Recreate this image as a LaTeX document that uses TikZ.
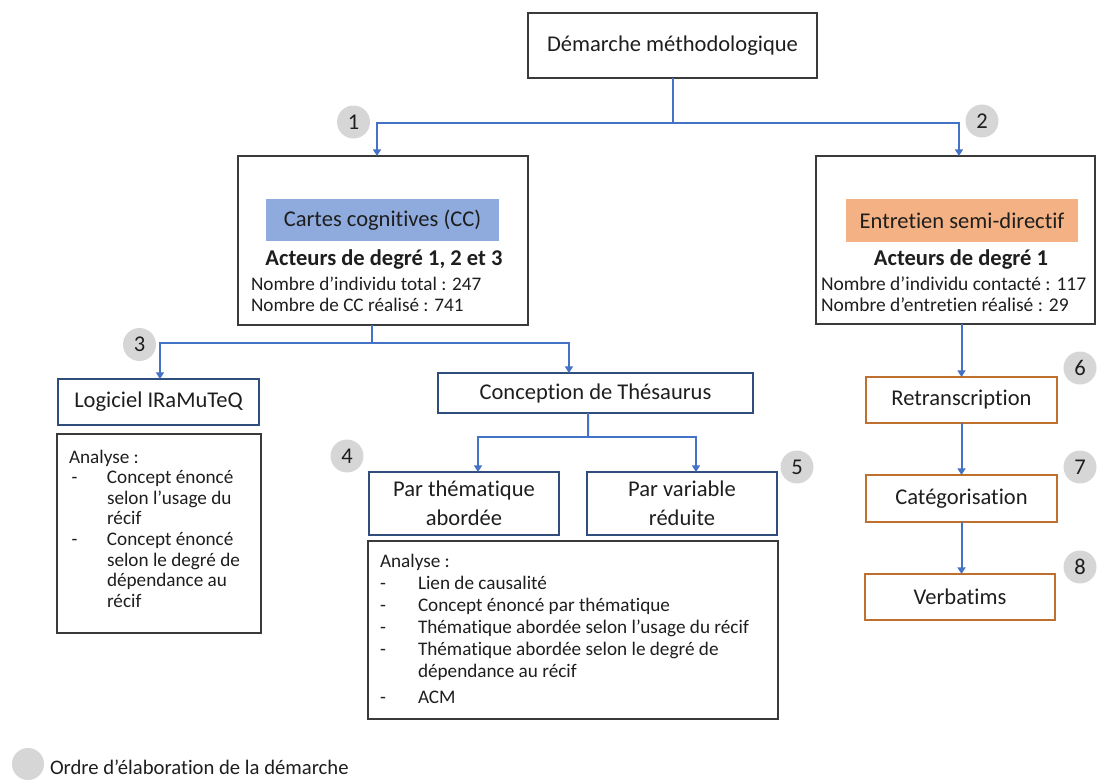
\documentclass[tikz,border=0pt]{standalone}
\usepackage{fontspec}
\setmainfont{Carlito}[Ligatures=NoCommon]
\usetikzlibrary{arrows.meta}
\definecolor{connblue}{HTML}{4472C4}
\definecolor{fillblue}{HTML}{8FAADC}
\definecolor{fillorange}{HTML}{F4B183}
\definecolor{navyedge}{HTML}{2F4E7E}
\definecolor{brownedge}{HTML}{C0702E}
\definecolor{plainedge}{HTML}{3A3A3A}
\definecolor{dotgray}{HTML}{D6D6D6}
\definecolor{inktext}{HTML}{1E1E1E}
\newcommand{\bigf}{\fontsize{16.9}{21}\selectfont}
\begin{document}
\begin{tikzpicture}[x=0.75pt,y=-0.75pt,text=inktext,
  plainbox/.style={draw=plainedge,line width=1.2pt,outer sep=0pt,inner sep=0pt},
  navybox/.style={draw=navyedge,line width=1.9pt,outer sep=0pt,inner sep=0pt,font=\bigf,align=center},
  brownbox/.style={draw=brownedge,line width=1.9pt,outer sep=0pt,inner sep=0pt,font=\bigf},
  conn/.style={draw=connblue,line width=1.5pt},
  arr/.style={conn,-{Triangle[width=6pt,length=5pt]}},
  stepdot/.style={circle,fill=dotgray,minimum size=24.75pt,inner sep=0pt,font=\bigf},
  txt/.style={inner sep=0pt,outer sep=0pt}
]
\useasboundingbox (0,0) rectangle (1099,779);

% top
\node[plainbox,minimum width=216.75pt,minimum height=48.75pt,font=\bigf] (top) at (672.5,45.5) {Démarche méthodologique};

% cartes cognitives
\node[plainbox,minimum width=217.5pt,minimum height=126.75pt] (cc) at (383,240.5) {};
\node[fill=fillblue,minimum width=174.75pt,minimum height=31.5pt,inner sep=0pt,font=\bigf] (ccl) at (382.5,220) {Cartes cognitives (CC)};
\node[txt,anchor=base,font=\bigf\bfseries] (cca) at (384,265) {Acteurs de degré 1, 2 et 3};
\node[txt,anchor=base west,font=\fontsize{14.4}{15.75}\selectfont] (ccn) at (251,290) {\begin{tabular}[t]{@{}l@{}}Nombre d’individu total : 247\\Nombre de CC réalisé : 741\end{tabular}};

% entretien
\node[plainbox,minimum width=209.25pt,minimum height=126pt] (ent) at (955.5,240) {};
\node[fill=fillorange,minimum width=174pt,minimum height=32.25pt,inner sep=0pt,font=\bigf] (entl) at (962,220.5) {Entretien semi-directif};
\node[txt,anchor=base,font=\bigf\bfseries] (enta) at (961,265) {Acteurs de degré 1};
\node[txt,anchor=base west,font=\fontsize{14.6}{15.75}\selectfont] (entn) at (821,290) {\begin{tabular}[t]{@{}l@{}}Nombre d’individu contacté : 117\\Nombre d’entretien réalisé : 29\end{tabular}};

% left branch
\node[navybox,minimum width=150.75pt,minimum height=34.5pt] (logi) at (158.5,402) {Logiciel IRaMuTeQ};
\node[plainbox,minimum width=153pt,minimum height=149.25pt] (anaL) at (159,533.5) {};
\node[txt,anchor=base west,font=\fontsize{14.4}{15.45}\selectfont] (anaLt) at (69,463) {\begin{tabular}[t]{@{}p{28.5pt}@{}l@{}}\multicolumn{2}{@{}l@{}}{Analyse :}\\
\hspace{2pt}- & Concept énoncé\\
 & selon l’usage du\\
 & récif\\
\hspace{2pt}- & Concept énoncé\\
 & selon le degré de\\
 & dépendance au\\
 & récif\end{tabular}};

% thesaurus
\node[navybox,minimum width=236.25pt,minimum height=30pt] (conc) at (595.5,393) {Conception de Thésaurus};
\node[navybox,minimum width=142.5pt,minimum height=47.25pt] (pthem) at (464,503.5) {Par thématique\\[1pt]abordée};
\node[navybox,minimum width=142.5pt,minimum height=47.25pt] (pvar) at (682,503.5) {Par variable\\[1pt]réduite};
\node[plainbox,minimum width=307.5pt,minimum height=133.5pt] (anaC) at (573,630) {};
\node[txt,anchor=base west,font=\fontsize{14.4}{16.5}\selectfont] (anaCt) at (380,567) {\begin{tabular}[t]{@{}p{28.5pt}@{}l@{}}\multicolumn{2}{@{}l@{}}{Analyse :}\\
- & Lien de causalité\\
- & Concept énoncé par thématique\\
- & Thématique abordée selon l’usage du récif\\
- & Thématique abordée selon le degré de\\
 & dépendance au récif\\[3pt]
- & ACM\end{tabular}};

% right column
\node[brownbox,minimum width=143.25pt,minimum height=34.5pt] (retr) at (961.5,400) {Retranscription};
\node[brownbox,minimum width=143.25pt,minimum height=35.25pt] (categ) at (961.5,498.5) {Catégorisation};
\node[brownbox,minimum width=142.5pt,minimum height=34.5pt] (verb) at (960,597) {Verbatims};

% step dots
\node[stepdot] (d1) at (353.5,122) {1};
\node[stepdot] (d2) at (982,121) {2};
\node[stepdot] (d3) at (139.5,344.5) {3};
\node[stepdot] (d4) at (347,456) {4};
\node[stepdot] (d5) at (797,467) {5};
\node[stepdot] (d6) at (1080,368) {6};
\node[stepdot] (d7) at (1080,467) {7};
\node[stepdot] (d8) at (1080,567) {8};
\node[stepdot,minimum size=24pt] (dl) at (28,764) {};
\node[txt,anchor=base west,font=\fontsize{15.5}{18}\selectfont] (legend) at (50,774) {Ordre d’élaboration de la démarche};

% connectors
\coordinate (hub1) at (672.5,123);
\draw[conn] (top.south) -- (hub1);
\draw[arr] (hub1) -| ([xshift=-4.5pt]cc.north);
\draw[arr] (hub1) -| ([xshift=2.6pt]ent.north);

\coordinate (hub2) at (372,343);
\draw[conn] ([xshift=-8.25pt]cc.south) -- (hub2);
\draw[arr] (hub2) -| ([xshift=1.1pt]logi.north);
\draw[arr] (hub2) -| ([xshift=-19.9pt]conc.north);

\coordinate (hub3) at (588,437);
\draw[conn] ([xshift=-5.6pt]conc.south) -- (hub3);
\draw[arr] (hub3) -| ([xshift=10.5pt]pthem.north);
\draw[arr] (hub3) -| ([xshift=10.5pt]pvar.north);

\draw[arr] (retr.north |- ent.south) -- (retr.north);
\draw[arr] (retr.south) -- (categ.north);
\draw[arr] (categ.south) -- (categ.south |- verb.north);
\end{tikzpicture}
\end{document}
